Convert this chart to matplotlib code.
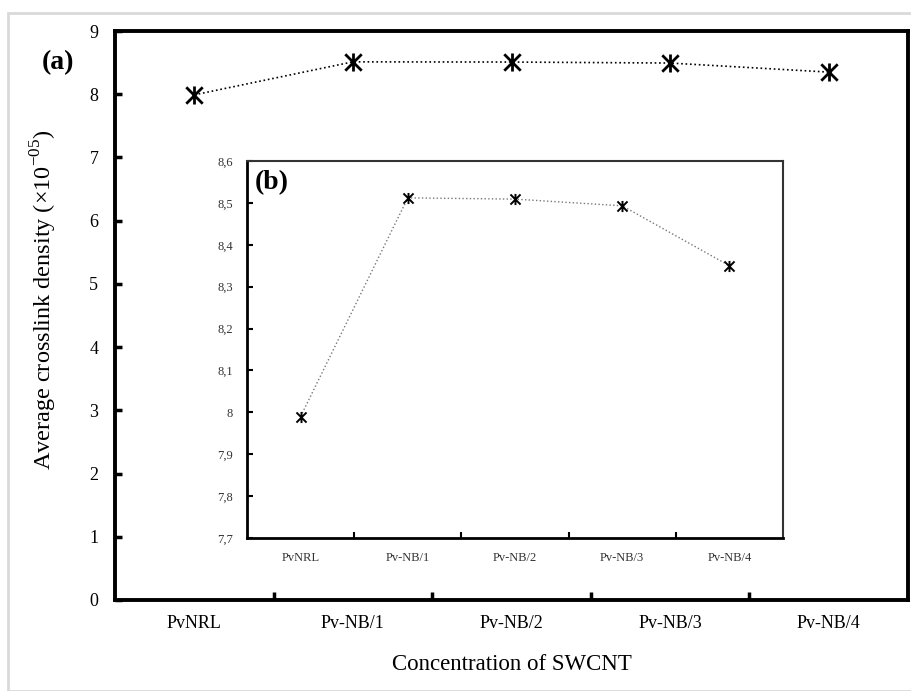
import matplotlib.pyplot as plt
from matplotlib.patches import Rectangle
from matplotlib.path import Path

# data
samples = ['PvNRL', 'Pv-NB/1', 'Pv-NB/2', 'Pv-NB/3', 'Pv-NB/4']
crosslink = [7.99, 8.512, 8.509, 8.493, 8.35]
main_yticks = [0, 1, 2, 3, 4, 5, 6, 7, 8, 9]
inset_yticks = [7.7, 7.8, 7.9, 8.0, 8.1, 8.2, 8.3, 8.4, 8.5, 8.6]
inset_ylabels = ['7,7', '7,8', '7,9', '8', '8,1', '8,2', '8,3', '8,4', '8,5', '8,6']

plt.rcParams['font.family'] = ['Liberation Serif', 'DejaVu Serif']
W, H = 912, 691
fig = plt.figure(figsize=(W / 100, H / 100), dpi=100)

# light grey frame around the picture
fig.patches.append(Rectangle((8 / W, 0), 1.2, 1 - 13 / H, transform=fig.transFigure,
                             fill=False, edgecolor='#d9d9d9', linewidth=2))


def box(x0, y0, x1, y1):
    return [x0 / W, 1 - y1 / H, (x1 - x0) / W, (y1 - y0) / H]


# Excel-style star: an X with a vertical bar
star = Path([(-1, -1), (1, 1), (-1, 1), (1, -1), (0, -1.1), (0, 1.1)],
            [Path.MOVETO, Path.LINETO, Path.MOVETO, Path.LINETO, Path.MOVETO, Path.LINETO])
xs = list(range(len(samples)))

# main chart
ax = fig.add_axes(box(115, 31, 908, 600))
ax.plot(xs, crosslink, color='black', linestyle=':', linewidth=1.2,
        marker=star, markersize=13, markeredgewidth=2, markeredgecolor='black')
ax.set_xlim(-0.5, len(samples) - 0.5)
ax.set_ylim(0, 9)
ax.set_yticks(main_yticks)
ax.set_yticklabels([str(v) for v in main_yticks], fontsize=13)
ax.set_xticks(xs)
ax.set_xticklabels(samples, fontsize=13)
ax.tick_params(axis='x', length=0, pad=11)
ax.set_xticks([i + 0.5 for i in xs[:-1]], minor=True)
ax.tick_params(axis='x', which='minor', direction='in', length=6, width=2.5)
ax.tick_params(axis='y', direction='in', length=5, width=2.5, pad=12)
for s in ax.spines.values():
    s.set_linewidth(2.8)
ax.set_xlabel('Concentration of SWCNT', fontsize=16.5, labelpad=16)
ax.set_ylabel('Average crosslink density (×10$^{\\mathregular{-05}}$)', fontsize=17.5)
ax.yaxis.set_label_coords(-0.071, 0.527)
fig.text(58 / W, 1 - 63 / H, '(a)', fontsize=20, fontweight='bold', ha='center', va='center')

# inset
ai = fig.add_axes(box(247, 161, 783, 538))
ai.plot(xs, crosslink, color='#777777', linestyle=':', linewidth=1.0,
        marker=star, markersize=8, markeredgewidth=1.4, markeredgecolor='black')
ai.set_xlim(-0.5, len(samples) - 0.5)
ai.set_ylim(7.7, 8.6)
ai.set_yticks(inset_yticks)
ai.set_yticklabels(inset_ylabels, fontsize=9, color='#333333')
ai.set_xticks(xs)
ai.set_xticklabels(samples, fontsize=9, color='#333333')
ai.tick_params(axis='x', length=0, pad=10)
ai.set_xticks([i + 0.5 for i in xs[:-1]], minor=True)
ai.tick_params(axis='x', which='minor', direction='in', length=4, width=1.5)
ai.tick_params(axis='y', direction='in', length=4, width=1.5, pad=10)
ai.spines['left'].set_linewidth(2)
ai.spines['bottom'].set_linewidth(2)
ai.spines['top'].set_linewidth(1.5)
ai.spines['right'].set_linewidth(1.5)
ai.spines['top'].set_color('#333333')
ai.spines['right'].set_color('#333333')
ai.text(0.015, 0.975, '(b)', transform=ai.transAxes, fontsize=20, fontweight='bold',
        ha='left', va='top')

fig.savefig('out.png', dpi=100)
